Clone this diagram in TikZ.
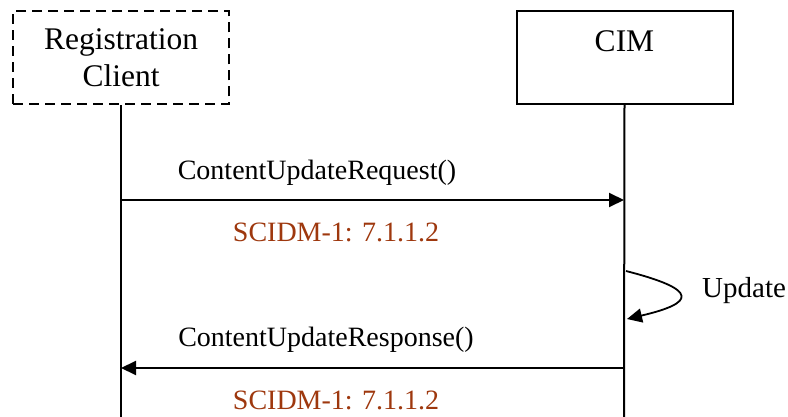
\documentclass[tikz,border=0pt]{standalone}
\usepackage{fontspec}
\setmainfont{Liberation Serif}
\usetikzlibrary{arrows.meta}
\definecolor{refcol}{RGB}{158,56,14}
\begin{document}
\begin{tikzpicture}[x=1pt,y=-1pt,
  actor/.style={draw,line width=2pt,minimum width=216pt,minimum height=93pt,inner sep=0pt,
    font=\fontsize{31.5}{37}\selectfont,align=center},
  lifeline/.style={line width=2pt},
  tip/.style={-{Triangle[length=15pt,width=14pt]}},
  msg/.style={line width=2pt,tip},
  lbl/.style={font=\fontsize{28}{32}\selectfont,inner sep=0pt},
  ref/.style={lbl,text=refcol}]
\useasboundingbox (0,0) rectangle (788,417);
% participants
\node[actor,dash pattern=on 10pt off 6pt] (rc) at (121,58) {Registration\\Client};
\node[actor,text depth=33pt] (cim) at (624.5,57.5) {CIM};
% lifelines
\coordinate (rcend) at (121,417);
\coordinate (cimend) at (624,417);
\draw[lifeline] (rc.south) -- (rcend);
\draw[lifeline] (cim.south) -- (cimend);
% request
\coordinate (r1) at (121,200);
\coordinate (c1) at (624,200);
\draw[msg] (r1) -- (c1);
\node[lbl] (reqlbl) at (317,173) {ContentUpdateRequest()};
\node[ref] (reqref) at (336,232) {SCIDM-1: 7.1.1.2};
% self update
\coordinate (s1) at (626,271);
\coordinate (s2) at (627,319);
\draw[line width=1.8pt,tip] (s1) .. controls (700,290) and (695,303) .. (s2);
\node[lbl,anchor=west,font=\fontsize{29}{32}\selectfont] (upd) at (702,291) {Update};
% response
\coordinate (c2) at (624,368);
\coordinate (r2) at (121,368);
\draw[msg] (c2) -- (r2);
\node[lbl] (resplbl) at (326,340) {ContentUpdateResponse()};
\node[ref] (respref) at (336,400) {SCIDM-1: 7.1.1.2};
\end{tikzpicture}
\end{document}
